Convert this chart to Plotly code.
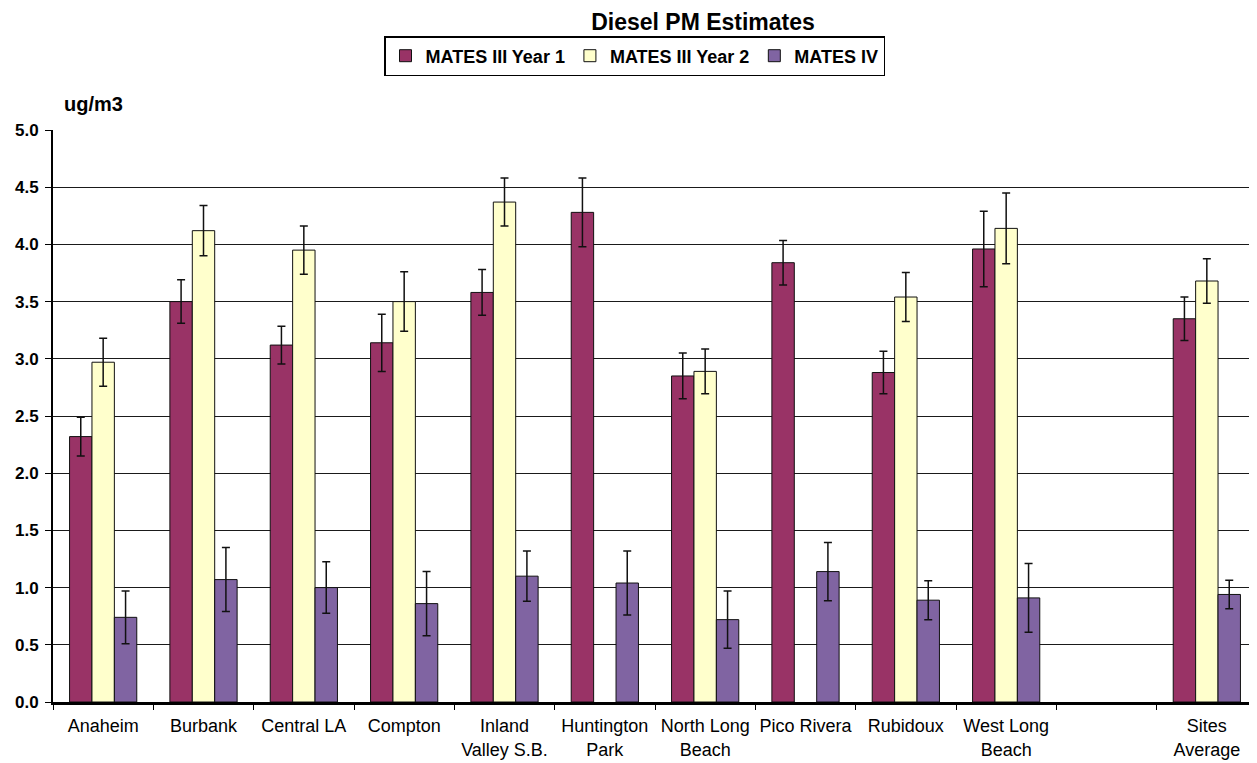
import plotly.graph_objects as go

categories = ["Anaheim", "Burbank", "Central LA", "Compton", "Inland<br>Valley S.B.",
              "Huntington<br>Park", "North Long<br>Beach", "Pico Rivera", "Rubidoux",
              "West Long<br>Beach", " ", "Sites<br>Average"]

mates3_y1 = [2.32, 3.50, 3.12, 3.14, 3.58, 4.28, 2.85, 3.84, 2.88, 3.96, None, 3.35]
mates3_y1_err = [0.17, 0.19, 0.165, 0.25, 0.20, 0.30, 0.20, 0.195, 0.185, 0.33, None, 0.19]

mates3_y2 = [2.97, 4.12, 3.95, 3.50, 4.37, None, 2.89, None, 3.54, 4.14, None, 3.68]
mates3_y2_err = [0.21, 0.22, 0.21, 0.26, 0.21, None, 0.195, None, 0.215, 0.31, None, 0.195]

mates4 = [0.74, 1.07, 1.00, 0.86, 1.10, 1.04, 0.72, 1.14, 0.89, 0.91, None, 0.94]
mates4_err = [0.23, 0.28, 0.225, 0.28, 0.22, 0.28, 0.25, 0.255, 0.17, 0.30, None, 0.125]

series_names = ["MATES III Year 1", "MATES III Year 2", "MATES IV"]
colors = ["#993366", "#FFFFCC", "#8064A2"]

FONT = "Liberation Sans, Arial, sans-serif"

# page body has an 8px default margin, so the figure is sized to fill the rest
W, H = 1249, 755
L, T, B = 45, 122, 61  # plot area: window x 53..1257, y 130..702

fig = go.Figure()
for name, vals, errs, col in zip(series_names,
                                 [mates3_y1, mates3_y2, mates4],
                                 [mates3_y1_err, mates3_y2_err, mates4_err],
                                 colors):
    fig.add_trace(go.Bar(
        name="<b>" + name + "</b>", x=categories, y=vals,
        marker=dict(color=col, line=dict(color="#111111", width=1)),
        error_y=dict(type="data", array=errs, visible=True, color="#111111",
                     thickness=1.5, width=4),
    ))

fig.update_layout(
    width=W, height=H,
    barmode="group", bargap=0.33, bargroupgap=0,
    plot_bgcolor="white", paper_bgcolor="white",
    margin=dict(l=L, r=0, t=T, b=B, autoexpand=False),
    font=dict(family=FONT, color="black"),
    title=dict(text="<b>Diesel PM Estimates</b>", x=695 / W, xanchor="center",
               y=1 - 14 / H, yanchor="middle", font=dict(size=23, color="black")),
    legend=dict(orientation="h", x=(634.5 - 53) / 1204, xanchor="center",
                y=(702 - 56) / 572, yanchor="middle",
                bordercolor="black", borderwidth=1.5, bgcolor="white",
                font=dict(size=18, family=FONT),
                traceorder="normal"),
    showlegend=True,
    annotations=[dict(text="<b>ug/m3</b>", xref="paper", yref="paper",
                      x=(93.5 - 53) / 1204, y=(702 - 104) / 572, xanchor="center",
                      yanchor="middle", showarrow=False, font=dict(size=20))],
)

fig.update_yaxes(range=[0, 5], dtick=0.5, tickformat=".1f",
                 showgrid=True, gridcolor="#1a1a1a", gridwidth=1,
                 showline=True, linecolor="black", linewidth=2,
                 ticks="outside", ticklen=6, tickcolor="black",
                 tickfont=dict(size=17, family=FONT),
                 tickprefix="<b>", ticksuffix="</b>", ticklabelstandoff=3,
                 zeroline=False, automargin=False)
fig.update_xaxes(showline=True, linecolor="black", linewidth=2.5,
                 ticks="outside", tickson="boundaries", ticklen=5, tickcolor="black",
                 tickfont=dict(size=18, family=FONT), ticklabelstandoff=6,
                 tickangle=0, automargin=False)

fig.write_html("out.html")
